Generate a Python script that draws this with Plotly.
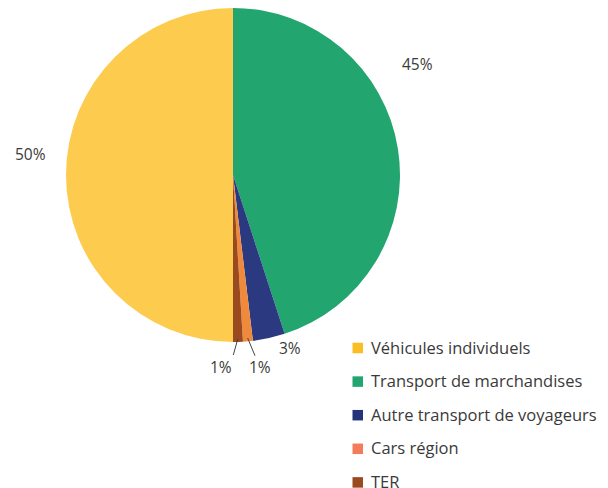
import math
import plotly.graph_objects as go

categories = ["Véhicules individuels", "Transport de marchandises",
              "Autre transport de voyageurs", "Cars région", "TER"]
values = [50.0, 45.0, 3.1, 0.95, 0.95]
labels_txt = ["50%", "45%", "3%", "1%", "1%"]
colors = ["#FDCB4D", "#22A56E", "#2B3A80", "#EF8A3C", "#9A4A1E"]
legend_colors = ["#FBBD24", "#22A56E", "#25337A", "#F47C5E", "#9A4A1E"]

W, H = 608, 488
FONT = "Open Sans"
TXT = "#3a3a3a"

# pie geometry (pixels)
CX, CY, R = 233, 175, 167
START_DEG = 180  # first slice starts at 6 o'clock, clockwise

# legend layout (pixels)
LEG_X, LEG_Y0, LEG_DY, SQ = 352.5, 348, 33.6, 10.5
LEG_TEXT_X = 368.5


def px(x):
    return x / W


def py(y):
    return 1 - y / H


# label placement (pixels) and leader line ends, styling only
label_pos = [(30, 154), (417, 64), (290, 348), (259.5, 366.5), (220.5, 366.5)]
leader_end = [None, None, None, (255, 355.7), (233.3, 355)]

fig = go.Figure()
fig.add_trace(go.Pie(
    labels=categories, values=values,
    textinfo="none",
    marker=dict(colors=colors, line=dict(width=0)),
    sort=False, direction="clockwise", rotation=START_DEG,
    showlegend=False,
    domain=dict(x=[px(CX - R), px(CX + R)], y=[py(CY + R), py(CY - R)]),
    hoverinfo="label+percent",
))

total = sum(values)
acc = 0.0
annotations = []
shapes = []
for i, v in enumerate(values):
    mid = START_DEG + (acc + v / 2) / total * 360
    acc += v
    lx, ly = label_pos[i]
    annotations.append(dict(
        x=px(lx), y=py(ly), xref="paper", yref="paper",
        text=labels_txt[i], showarrow=False,
        xanchor="center", yanchor="middle",
        font=dict(family=FONT, size=15.5, color=TXT),
    ))
    if leader_end[i] is not None:
        a = math.radians(mid)
        sx = CX + 0.98 * R * math.sin(a)
        sy = CY - 0.98 * R * math.cos(a)
        ex, ey = leader_end[i]
        shapes.append(dict(
            type="line", xref="paper", yref="paper",
            x0=px(sx), y0=py(sy), x1=px(ex), y1=py(ey),
            line=dict(color="#444444", width=1),
        ))

# legend drawn from the category list
for i, (c, col) in enumerate(zip(categories, legend_colors)):
    yc = LEG_Y0 + i * LEG_DY
    shapes.append(dict(
        type="rect", xref="paper", yref="paper",
        x0=px(LEG_X), x1=px(LEG_X + SQ),
        y0=py(yc + SQ / 2), y1=py(yc - SQ / 2),
        fillcolor=col, line=dict(width=0),
    ))
    annotations.append(dict(
        x=px(LEG_TEXT_X), y=py(yc - 1), xref="paper", yref="paper",
        text=c, showarrow=False, xanchor="left", yanchor="middle",
        font=dict(family=FONT, size=16.5, color=TXT),
    ))

fig.update_layout(
    width=W, height=H,
    margin=dict(l=0, r=0, t=0, b=0),
    paper_bgcolor="white", plot_bgcolor="white",
    font=dict(family=FONT, color=TXT),
    annotations=annotations, shapes=shapes,
    showlegend=False,
)

fig.write_html("out.html",
               config={"displayModeBar": False},
               post_script="document.body.style.margin='0';"
                           "document.body.style.overflow='hidden';")
